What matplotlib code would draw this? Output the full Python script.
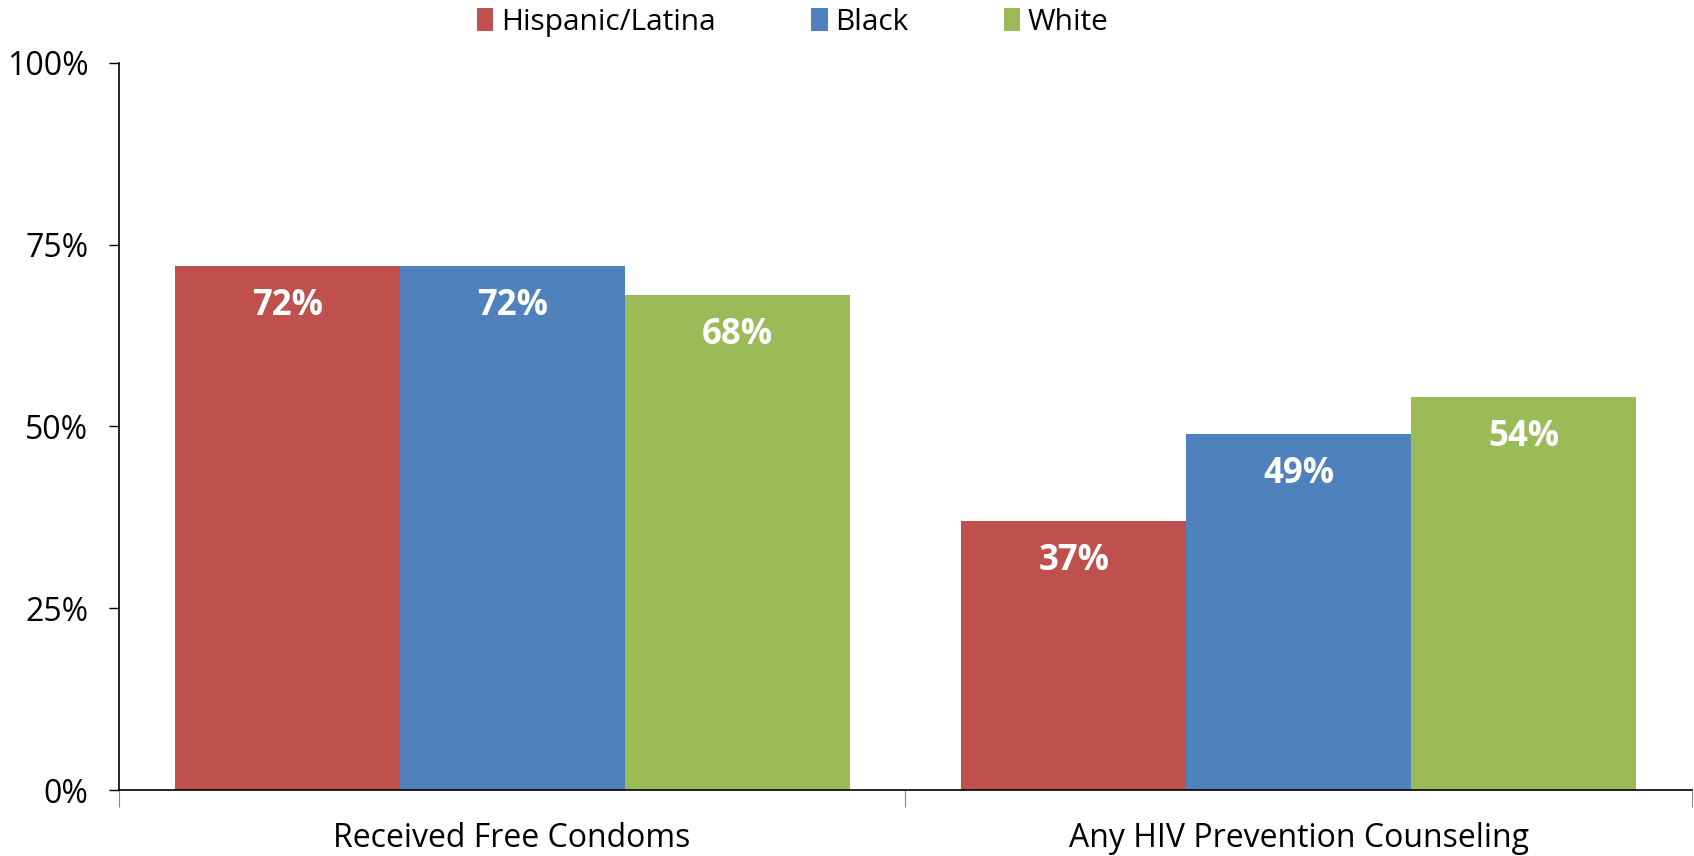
import numpy as np
import matplotlib
matplotlib.use('Agg')
import matplotlib.pyplot as plt
from matplotlib.ticker import FixedLocator, NullFormatter

categories = ['Received Free Condoms', 'Any HIV Prevention Counseling']
series = ['Hispanic/Latina', 'Black', 'White']
hispanic = [72, 37]
black = [72, 49]
white = [68, 54]
colors = ['#C0504D', '#4F81BD', '#9BBB59']

plt.rcParams['font.family'] = ['Open Sans', 'DejaVu Sans']

fig = plt.figure(figsize=(16.94, 8.56), dpi=100)
ax = fig.add_axes([0.0702, 0.0771, 0.9286, 0.8496])

x = np.arange(len(categories))
w = 0.286
for i, (name, vals) in enumerate(zip(series, [hispanic, black, white])):
    pos = x + (i - 1) * w
    ax.bar(pos, vals, width=w, color=colors[i], label=name, zorder=2)
    for p, v in zip(pos, vals):
        ax.text(p, v - 5.5, f'{v}%', ha='center', va='center', color='white',
                fontsize=25, fontweight='bold')

ax.set_xlim(-0.5, 1.5)
ax.set_ylim(0, 100)
ax.set_yticks([0, 25, 50, 75, 100])
ax.set_yticklabels(['0%', '25%', '50%', '75%', '100%'], fontsize=23)
ax.tick_params(axis='y', length=7, width=1, pad=15)

# category labels sit between the separator ticks
ax.xaxis.set_major_locator(FixedLocator([-0.5, 0.5, 1.5]))
ax.xaxis.set_major_formatter(NullFormatter())
ax.xaxis.set_minor_locator(FixedLocator(x))
ax.set_xticklabels(categories, minor=True, fontsize=23)
ax.tick_params(axis='x', which='major', length=12, width=0.8, color='#888888')
ax.tick_params(axis='x', which='minor', length=0, pad=23)

for s in ['top', 'right']:
    ax.spines[s].set_visible(False)
ax.spines['left'].set_linewidth(1.2)
ax.spines['bottom'].set_linewidth(1.2)

fig.legend(loc='upper center', bbox_to_anchor=(0.468, 1.022), ncol=3, frameon=False,
           fontsize=21.5, handlelength=0.55, handleheight=0.8, handletextpad=0.25,
           columnspacing=3.2)

fig.savefig('out.png', dpi=100)
